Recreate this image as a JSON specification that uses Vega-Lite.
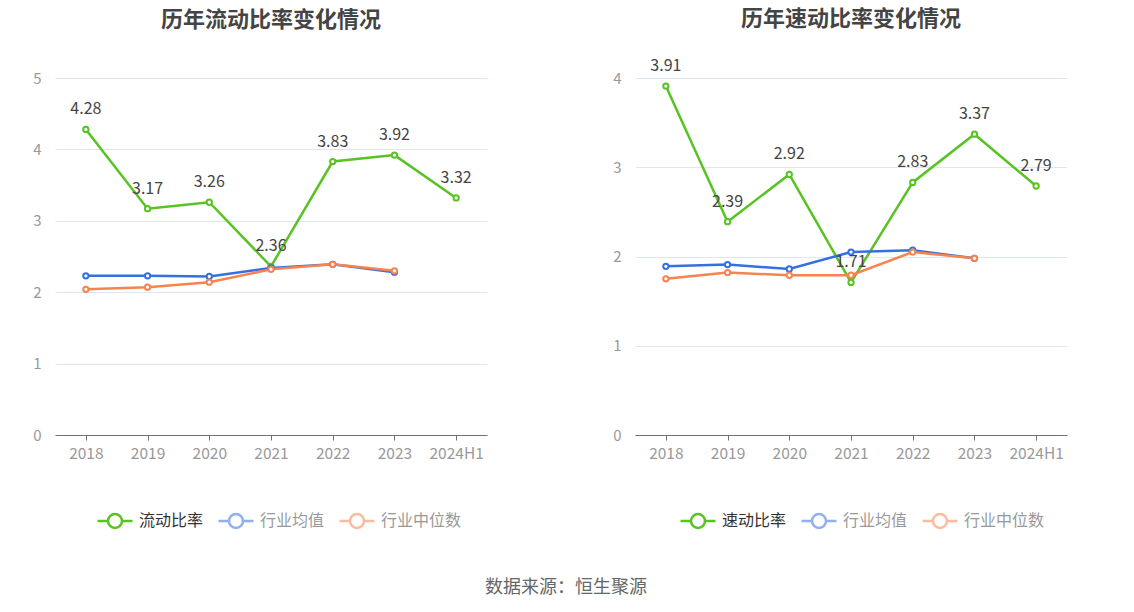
{
  "$schema": "https://vega.github.io/schema/vega-lite/v6.json",
  "background": "white",
  "padding": {"left": 25, "right": 20, "top": 8, "bottom": 4},
  "title": {
    "text": "数据来源：恒生聚源",
    "orient": "bottom",
    "anchor": "middle",
    "fontSize": 18,
    "fontWeight": "normal",
    "color": "#666",
    "dx": 20,
    "offset": 46
  },
  "datasets": {
    "current": [
      {"year": "2018", "series": "流动比率", "value": 4.28},
      {"year": "2019", "series": "流动比率", "value": 3.17},
      {"year": "2020", "series": "流动比率", "value": 3.26},
      {"year": "2021", "series": "流动比率", "value": 2.36},
      {"year": "2022", "series": "流动比率", "value": 3.83},
      {"year": "2023", "series": "流动比率", "value": 3.92},
      {"year": "2024H1", "series": "流动比率", "value": 3.32},
      {"year": "2018", "series": "行业均值", "value": 2.23},
      {"year": "2019", "series": "行业均值", "value": 2.23},
      {"year": "2020", "series": "行业均值", "value": 2.22},
      {"year": "2021", "series": "行业均值", "value": 2.34},
      {"year": "2022", "series": "行业均值", "value": 2.39},
      {"year": "2023", "series": "行业均值", "value": 2.28},
      {"year": "2018", "series": "行业中位数", "value": 2.04},
      {"year": "2019", "series": "行业中位数", "value": 2.07},
      {"year": "2020", "series": "行业中位数", "value": 2.14},
      {"year": "2021", "series": "行业中位数", "value": 2.32},
      {"year": "2022", "series": "行业中位数", "value": 2.39},
      {"year": "2023", "series": "行业中位数", "value": 2.30}
    ],
    "quick": [
      {"year": "2018", "series": "速动比率", "value": 3.91},
      {"year": "2019", "series": "速动比率", "value": 2.39},
      {"year": "2020", "series": "速动比率", "value": 2.92},
      {"year": "2021", "series": "速动比率", "value": 1.71},
      {"year": "2022", "series": "速动比率", "value": 2.83},
      {"year": "2023", "series": "速动比率", "value": 3.37},
      {"year": "2024H1", "series": "速动比率", "value": 2.79},
      {"year": "2018", "series": "行业均值", "value": 1.89},
      {"year": "2019", "series": "行业均值", "value": 1.91},
      {"year": "2020", "series": "行业均值", "value": 1.86},
      {"year": "2021", "series": "行业均值", "value": 2.05},
      {"year": "2022", "series": "行业均值", "value": 2.07},
      {"year": "2023", "series": "行业均值", "value": 1.98},
      {"year": "2018", "series": "行业中位数", "value": 1.75},
      {"year": "2019", "series": "行业中位数", "value": 1.82},
      {"year": "2020", "series": "行业中位数", "value": 1.79},
      {"year": "2021", "series": "行业中位数", "value": 1.79},
      {"year": "2022", "series": "行业中位数", "value": 2.05},
      {"year": "2023", "series": "行业中位数", "value": 1.98}
    ]
  },
  "spacing": 118,
  "hconcat": [
    {
      "width": 432,
      "height": 357,
      "title": {"text": "历年流动比率变化情况", "offset": 39},
      "data": {"name": "current"},
      "encoding": {
        "x": {
          "field": "year",
          "type": "ordinal",
          "scale": {"type": "point", "padding": 0.5},
          "axis": {"title": null}
        },
        "y": {
          "field": "value",
          "type": "quantitative",
          "scale": {"domain": [0, 5]},
          "axis": {"title": null, "values": [0, 1, 2, 3, 4, 5]}
        }
      },
      "layer": [
        {
          "mark": {
            "type": "line",
            "strokeWidth": 2.5,
            "point": {"filled": false, "fill": "white", "size": 28, "strokeWidth": 2}
          },
          "encoding": {
            "color": {
              "field": "series",
              "type": "nominal",
              "scale": {
                "domain": ["流动比率", "行业均值", "行业中位数"],
                "range": ["#58c322", "#3470e0", "#f7834f"]
              },
              "legend": {
                "title": null,
                "orient": "none",
                "direction": "horizontal",
                "legendX": 41,
                "legendY": 424,
                "encode": {
                  "symbols": {"update": {"strokeOpacity": [{"test": "datum.value === '流动比率'", "value": 1}, {"value": 0.55}]}},
                  "labels": {"update": {"fill": [{"test": "datum.value === '流动比率'", "value": "#333"}, {"value": "#999"}]}}
                }
              }
            }
          }
        },
        {
          "transform": [{"filter": "datum.series === '流动比率'"}],
          "mark": {"type": "text", "dy": -20, "fontSize": 16, "color": "#444"},
          "encoding": {
            "text": {"field": "value", "type": "quantitative", "format": ".2f"}
          }
        }
      ]
    },
    {
      "width": 432,
      "height": 357,
      "title": {"text": "历年速动比率变化情况", "offset": 27},
      "data": {"name": "quick"},
      "encoding": {
        "x": {
          "field": "year",
          "type": "ordinal",
          "scale": {"type": "point", "padding": 0.5},
          "axis": {"title": null}
        },
        "y": {
          "field": "value",
          "type": "quantitative",
          "scale": {"domain": [0, 4]},
          "axis": {"title": null, "values": [0, 1, 2, 3, 4]}
        }
      },
      "layer": [
        {
          "mark": {
            "type": "line",
            "strokeWidth": 2.5,
            "point": {"filled": false, "fill": "white", "size": 28, "strokeWidth": 2}
          },
          "encoding": {
            "color": {
              "field": "series",
              "type": "nominal",
              "scale": {
                "domain": ["速动比率", "行业均值", "行业中位数"],
                "range": ["#58c322", "#3470e0", "#f7834f"]
              },
              "legend": {
                "title": null,
                "orient": "none",
                "direction": "horizontal",
                "legendX": 44,
                "legendY": 424,
                "encode": {
                  "symbols": {"update": {"strokeOpacity": [{"test": "datum.value === '速动比率'", "value": 1}, {"value": 0.55}]}},
                  "labels": {"update": {"fill": [{"test": "datum.value === '速动比率'", "value": "#333"}, {"value": "#999"}]}}
                }
              }
            }
          }
        },
        {
          "transform": [{"filter": "datum.series === '速动比率'"}],
          "mark": {"type": "text", "dy": -20, "fontSize": 16, "color": "#444"},
          "encoding": {
            "text": {"field": "value", "type": "quantitative", "format": ".2f"}
          }
        }
      ]
    }
  ],
  "resolve": {"scale": {"color": "independent"}},
  "config": {
    "font": "Noto Sans CJK SC",
    "view": {"stroke": null},
    "title": {"fontSize": 22, "fontWeight": "bold", "color": "#444", "anchor": "middle"},
    "axisX": {
      "labelAngle": 0,
      "labelColor": "#999",
      "labelFontSize": 15.5,
      "labelPadding": 6,
      "domainColor": "#6e7079",
      "tickColor": "#6e7079",
      "tickSize": 5,
      "grid": false
    },
    "axisY": {
      "labelColor": "#999",
      "labelFontSize": 15,
      "labelPadding": 14,
      "domain": false,
      "ticks": false,
      "gridColor": "#e0e6f1",
      "minExtent": 30,
      "maxExtent": 30
    },
    "legend": {
      "labelFontSize": 16,
      "symbolType": "M-1,0H-0.4M0.4,0H1M-0.4,0A0.4,0.4,0,1,1,0.4,0A0.4,0.4,0,1,1,-0.4,0",
      "symbolSize": 1225,
      "symbolStrokeWidth": 2.5,
      "symbolFillColor": "white",
      "labelOffset": 5,
      "columnPadding": 9,
      "symbolOpacity": 1
    }
  }
}
